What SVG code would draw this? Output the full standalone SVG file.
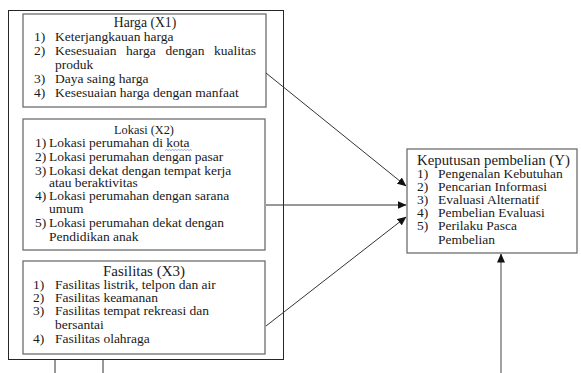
<svg xmlns="http://www.w3.org/2000/svg" width="581" height="373" viewBox="0 0 581 373">
<style>
.t{font-family:"Liberation Serif","Times New Roman",serif;font-size:13.5px;fill:#1a1a1a}
.box{fill:#fff;stroke:#6e6e6e;stroke-width:1.3}
.outer{fill:none;stroke:#262626;stroke-width:1}
.con{stroke:#333;stroke-width:1;fill:none}
</style>
<defs>
<marker id="ah" markerWidth="9" markerHeight="8" refX="8.5" refY="4" orient="auto" markerUnits="userSpaceOnUse">
<path d="M0,0 L9,4 L0,8 z" fill="#111"/>
</marker>
</defs>
<rect width="581" height="373" fill="#fff"/>
<g id="outer">
<rect class="outer" x="8.5" y="10.5" width="275" height="349"/>
</g>
<g id="harga">
<rect class="box" x="23" y="14" width="243" height="93"/>
<text class="t" x="145" y="27" text-anchor="middle" style="font-size:13.7px">Harga (X1)</text>
<text class="t" x="34" y="41">1)</text><text class="t" x="55" y="41">Keterjangkauan harga</text>
<text class="t" x="34" y="55">2)</text>
<text class="t" y="55"><tspan x="55">Kesesuaian</tspan><tspan x="126">harga</tspan><tspan x="165.5">dengan</tspan><tspan x="256" text-anchor="end">kualitas</tspan></text>
<text class="t" x="55" y="69">produk</text>
<text class="t" x="34" y="83">3)</text><text class="t" x="55" y="83">Daya saing harga</text>
<text class="t" x="34" y="97">4)</text><text class="t" x="55" y="97">Kesesuaian harga dengan manfaat</text>
</g>
<g id="lokasi">
<rect class="box" x="23" y="119" width="242" height="131"/>
<text class="t" x="144" y="134" text-anchor="middle" style="font-size:12.3px">Lokasi (X2)</text>
<text class="t" x="35" y="147">1)</text><text class="t" x="49" y="147">Lokasi perumahan di kota</text>
<path d="M165,150.5 l1.5,-1 l1.5,1 l1.5,-1 l1.5,1 l1.5,-1 l1.5,1 l1.5,-1 l1.5,1 l1.5,-1 l1.5,1 l1.5,-1 l1.5,1 l1.5,-1 l1.5,1 l1.5,-1 l1.5,1 l1.5,-1 l1.5,1" fill="none" stroke="#5a6fd6" stroke-width="0.6"/>
<text class="t" x="35" y="161">2)</text><text class="t" x="49" y="161">Lokasi perumahan dengan pasar</text>
<text class="t" x="35" y="175">3)</text><text class="t" x="49" y="175">Lokasi dekat dengan tempat kerja</text>
<text class="t" x="49" y="187">atau beraktivitas</text>
<text class="t" x="35" y="200">4)</text><text class="t" x="49" y="200">Lokasi perumahan dengan sarana</text>
<text class="t" x="49" y="213">umum</text>
<text class="t" x="35" y="227">5)</text><text class="t" x="49" y="227">Lokasi perumahan dekat dengan</text>
<text class="t" x="49" y="241">Pendidikan anak</text>
</g>
<g id="fasilitas">
<rect class="box" x="23" y="261" width="242" height="93"/>
<text class="t" x="144" y="276" text-anchor="middle" style="font-size:15px">Fasilitas (X3)</text>
<text class="t" x="33" y="289">1)</text><text class="t" x="55" y="289">Fasilitas listrik, telpon dan air</text>
<text class="t" x="33" y="302">2)</text><text class="t" x="55" y="302">Fasilitas keamanan</text>
<text class="t" x="33" y="315">3)</text><text class="t" x="55" y="315">Fasilitas tempat rekreasi dan</text>
<text class="t" x="55" y="328.5">bersantai</text>
<text class="t" x="33" y="342.5">4)</text><text class="t" x="55" y="342.5">Fasilitas olahraga</text>
</g>
<g id="keputusan">
<rect class="box" x="407" y="149" width="170" height="104"/>
<text class="t" x="417" y="164.5" style="font-size:14.8px">Keputusan pembelian (Y)</text>
<text class="t" x="417" y="177.5">1)</text><text class="t" x="438" y="177.5">Pengenalan Kebutuhan</text>
<text class="t" x="417" y="191">2)</text><text class="t" x="438" y="191">Pencarian Informasi</text>
<text class="t" x="417" y="204">3)</text><text class="t" x="438" y="204">Evaluasi Alternatif</text>
<text class="t" x="417" y="217">4)</text><text class="t" x="438" y="217">Pembelian Evaluasi</text>
<text class="t" x="417" y="230">5)</text><text class="t" x="438" y="230">Perilaku Pasca</text>
<text class="t" x="438" y="244">Pembelian</text>
</g>
<g id="connectors">
<line class="con" x1="266" y1="73" x2="406" y2="186" marker-end="url(#ah)"/>
<line class="con" x1="266" y1="205" x2="406" y2="205" marker-end="url(#ah)"/>
<line class="con" x1="266" y1="326" x2="406" y2="217" marker-end="url(#ah)"/>
<line x1="501" y1="373" x2="501" y2="254" stroke="#8a8a8a" stroke-width="1.6" marker-end="url(#ah)"/>
<line class="con" x1="55" y1="360" x2="55" y2="373"/>
<line class="con" x1="103" y1="360" x2="103" y2="373"/>
</g>
</svg>
